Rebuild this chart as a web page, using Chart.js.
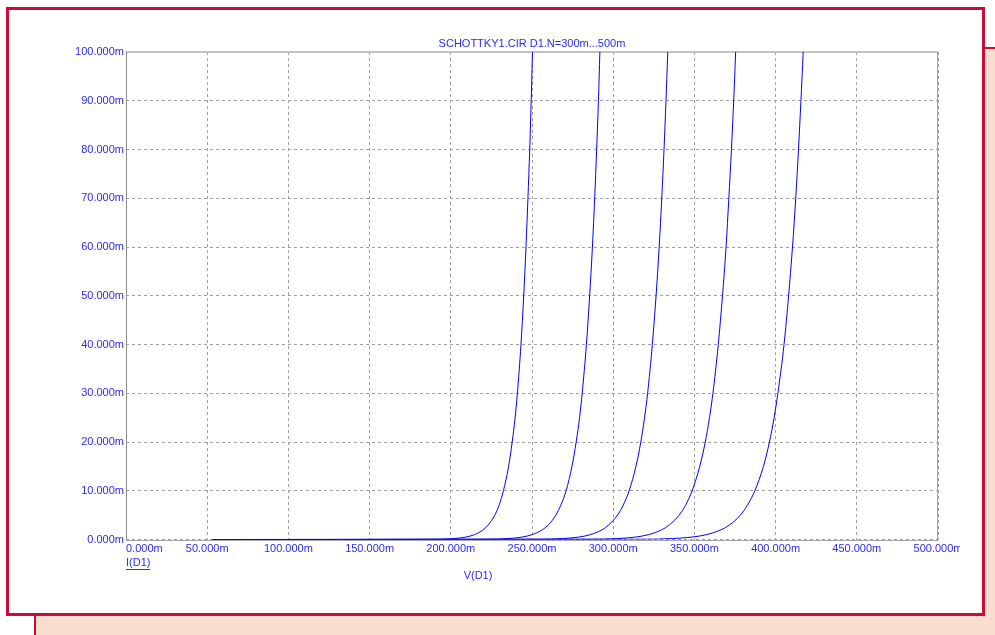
<!DOCTYPE html>
<html>
<head>
<meta charset="utf-8">
<script src="https://cdn.jsdelivr.net/npm/chart.js@4"></script>
<style>
  html, body { margin: 0; padding: 0; background: #ffffff; }
  #wrap { position: relative; width: 995px; height: 635px; }
  canvas { display: block; }
</style>
</head>
<body>
<div id="wrap"><canvas id="c" width="995" height="635"></canvas></div>
<script>
// ---- Data ----
const chartTitle = 'SCHOTTKY1.CIR D1.N=300m...500m';
const xAxisTitle = 'V(D1)';
const yAxisTitle = 'I(D1)';
const seriesNames = ['N=300m', 'N=350m', 'N=400m', 'N=450m', 'N=500m'];
// current values (mA) at which the curve voltages were read
const currents_mA = [0, 0.05, 0.2, 0.5, 1, 2, 3, 5, 7, 10, 15, 20, 25, 30, 40, 50, 60, 70, 80, 90, 100];
// voltage (mV) of each curve at those currents
const voltsN300 = [53, 191.4, 202.1, 209.2, 214.6, 220.0, 223.1, 227.1, 229.7, 232.4, 235.6, 237.8, 239.6, 241.0, 243.2, 244.9, 246.3, 247.5, 248.6, 249.5, 250.3];
const voltsN350 = [53, 223.0, 235.6, 243.9, 250.1, 256.4, 260.1, 264.7, 267.7, 271.0, 274.6, 277.2, 279.3, 280.9, 283.5, 285.5, 287.2, 288.6, 289.8, 290.9, 291.8];
const voltsN400 = [53, 255.0, 269.3, 278.8, 286.0, 293.2, 297.3, 302.6, 306.1, 309.8, 314.0, 317.0, 319.3, 321.2, 324.1, 326.4, 328.3, 329.9, 331.3, 332.5, 333.6];
const voltsN450 = [53, 287.0, 303.1, 313.8, 321.8, 329.9, 334.6, 340.6, 344.5, 348.6, 353.3, 356.7, 359.3, 361.4, 364.7, 367.3, 369.5, 371.2, 372.8, 374.2, 375.4];
const voltsN500 = [53, 318.7, 336.6, 348.5, 357.5, 366.4, 371.7, 378.3, 382.6, 387.2, 392.5, 396.2, 399.1, 401.4, 405.2, 408.0, 410.4, 412.4, 414.1, 415.6, 417.0];
const xTickLabels = ['0.000m', '50.000m', '100.000m', '150.000m', '200.000m', '250.000m', '300.000m', '350.000m', '400.000m', '450.000m', '500.000m'];
const yTickLabels = ['0.000m', '10.000m', '20.000m', '30.000m', '40.000m', '50.000m', '60.000m', '70.000m', '80.000m', '90.000m', '100.000m'];

// ---- styling ----
const FONT = '11px "Liberation Sans", Arial, sans-serif';
const TEXT_BLUE = '#2a2aff';
const CURVE_BLUE = '#0000ff';
const CRIMSON = '#cf0a36';
const PEACH = '#f8decf';

function toPoints(volts) {
  return volts.map((v, i) => ({ x: v, y: currents_mA[i] }));
}
const allVolts = [voltsN300, voltsN350, voltsN400, voltsN450, voltsN500];

const decorPlugin = {
  id: 'decor',
  beforeDraw(chart) {
    const ctx = chart.ctx;
    ctx.save();
    ctx.fillStyle = '#ffffff';
    ctx.fillRect(0, 0, 995, 635);
    // background window (peach) behind the panel
    ctx.fillStyle = PEACH;
    ctx.fillRect(35, 48, 960, 587);
    ctx.fillStyle = CRIMSON;
    ctx.fillRect(35, 47, 960, 2);
    ctx.fillRect(34, 47, 2, 588);
    // main white panel with crimson border
    ctx.fillStyle = '#ffffff';
    ctx.fillRect(6, 7, 979, 609);
    ctx.strokeStyle = CRIMSON;
    ctx.lineWidth = 3;
    ctx.strokeRect(7.5, 8.5, 976, 606);
    ctx.restore();
  },
  beforeDatasetsDraw(chart) {
    const ctx = chart.ctx;
    const a = chart.chartArea;
    const L = Math.round(a.left), R = Math.round(a.right), T = Math.round(a.top), B = Math.round(a.bottom);
    ctx.save();
    ctx.fillStyle = '#c2c2c2';
    ctx.fillRect(L, T - 1, R - L, 2);           // top
    ctx.fillStyle = '#a2a2a2';
    ctx.fillRect(R - 1, T, 1, B - T);           // right
    ctx.fillStyle = '#8c8c8c';
    ctx.fillRect(L, T, 1, B - T + 1);           // left
    ctx.fillStyle = '#a6a6a6';
    ctx.fillRect(L, B, R - L, 1);               // bottom
    ctx.restore();
  },
  afterDraw(chart) {
    const ctx = chart.ctx;
    const a = chart.chartArea;
    const xs = chart.scales.x, ys = chart.scales.y;
    ctx.save();
    ctx.font = FONT;
    ctx.fillStyle = TEXT_BLUE;
    // y tick labels
    ctx.textAlign = 'right';
    ctx.textBaseline = 'middle';
    ys.ticks.forEach((t, i) => {
      const y = ys.getPixelForValue(t.value);
      ctx.fillText(yTickLabels[i], a.left - 2, y);
    });
    // x tick labels
    ctx.save();
    ctx.beginPath();
    ctx.rect(0, 0, 960, 635);
    ctx.clip();
    xs.ticks.forEach((t, i) => {
      const x = xs.getPixelForValue(t.value);
      ctx.textAlign = i === 0 ? 'left' : 'center';
      ctx.fillText(xTickLabels[i], x, a.bottom + 9);
    });
    ctx.restore();
    // chart title
    ctx.textAlign = 'center';
    ctx.fillText(chartTitle, (a.left + a.right) / 2, a.top - 8);
    // y quantity name, underlined, below the first x label
    ctx.textAlign = 'left';
    ctx.fillText(yAxisTitle, a.left, a.bottom + 23);
    const w = ctx.measureText(yAxisTitle).width;
    ctx.fillRect(Math.round(a.left), Math.round(a.bottom + 29), Math.round(w), 1);
    // x axis name
    ctx.textAlign = 'center';
    ctx.fillText(xAxisTitle, 478, a.bottom + 36);
    ctx.restore();
  }
};

new Chart(document.getElementById('c'), {
  type: 'line',
  data: {
    datasets: allVolts.map((v, i) => ({
      label: seriesNames[i],
      data: toPoints(v),
      borderColor: CURVE_BLUE,
      borderWidth: 1,
      pointRadius: 0,
      fill: false,
      cubicInterpolationMode: 'monotone',
      tension: 0.4
    }))
  },
  options: {
    responsive: false,
    animation: false,
    devicePixelRatio: 1,
    layout: { padding: { left: 126, top: 52, right: 57, bottom: 95.5 } },
    plugins: {
      legend: { display: false },
      tooltip: { enabled: false },
      title: { display: false }
    },
    scales: {
      x: {
        type: 'linear',
        min: 0, max: 500,
        ticks: { display: false, stepSize: 50 },
        grid: { color: '#a0a0a0', lineWidth: 1, drawTicks: false },
        border: { display: false, dash: [3, 3] }
      },
      y: {
        type: 'linear',
        min: 0, max: 100,
        ticks: { display: false, stepSize: 10 },
        grid: { color: '#a0a0a0', lineWidth: 1, drawTicks: false },
        border: { display: false, dash: [3, 3] }
      }
    }
  },
  plugins: [decorPlugin]
});
</script>
</body>
</html>
